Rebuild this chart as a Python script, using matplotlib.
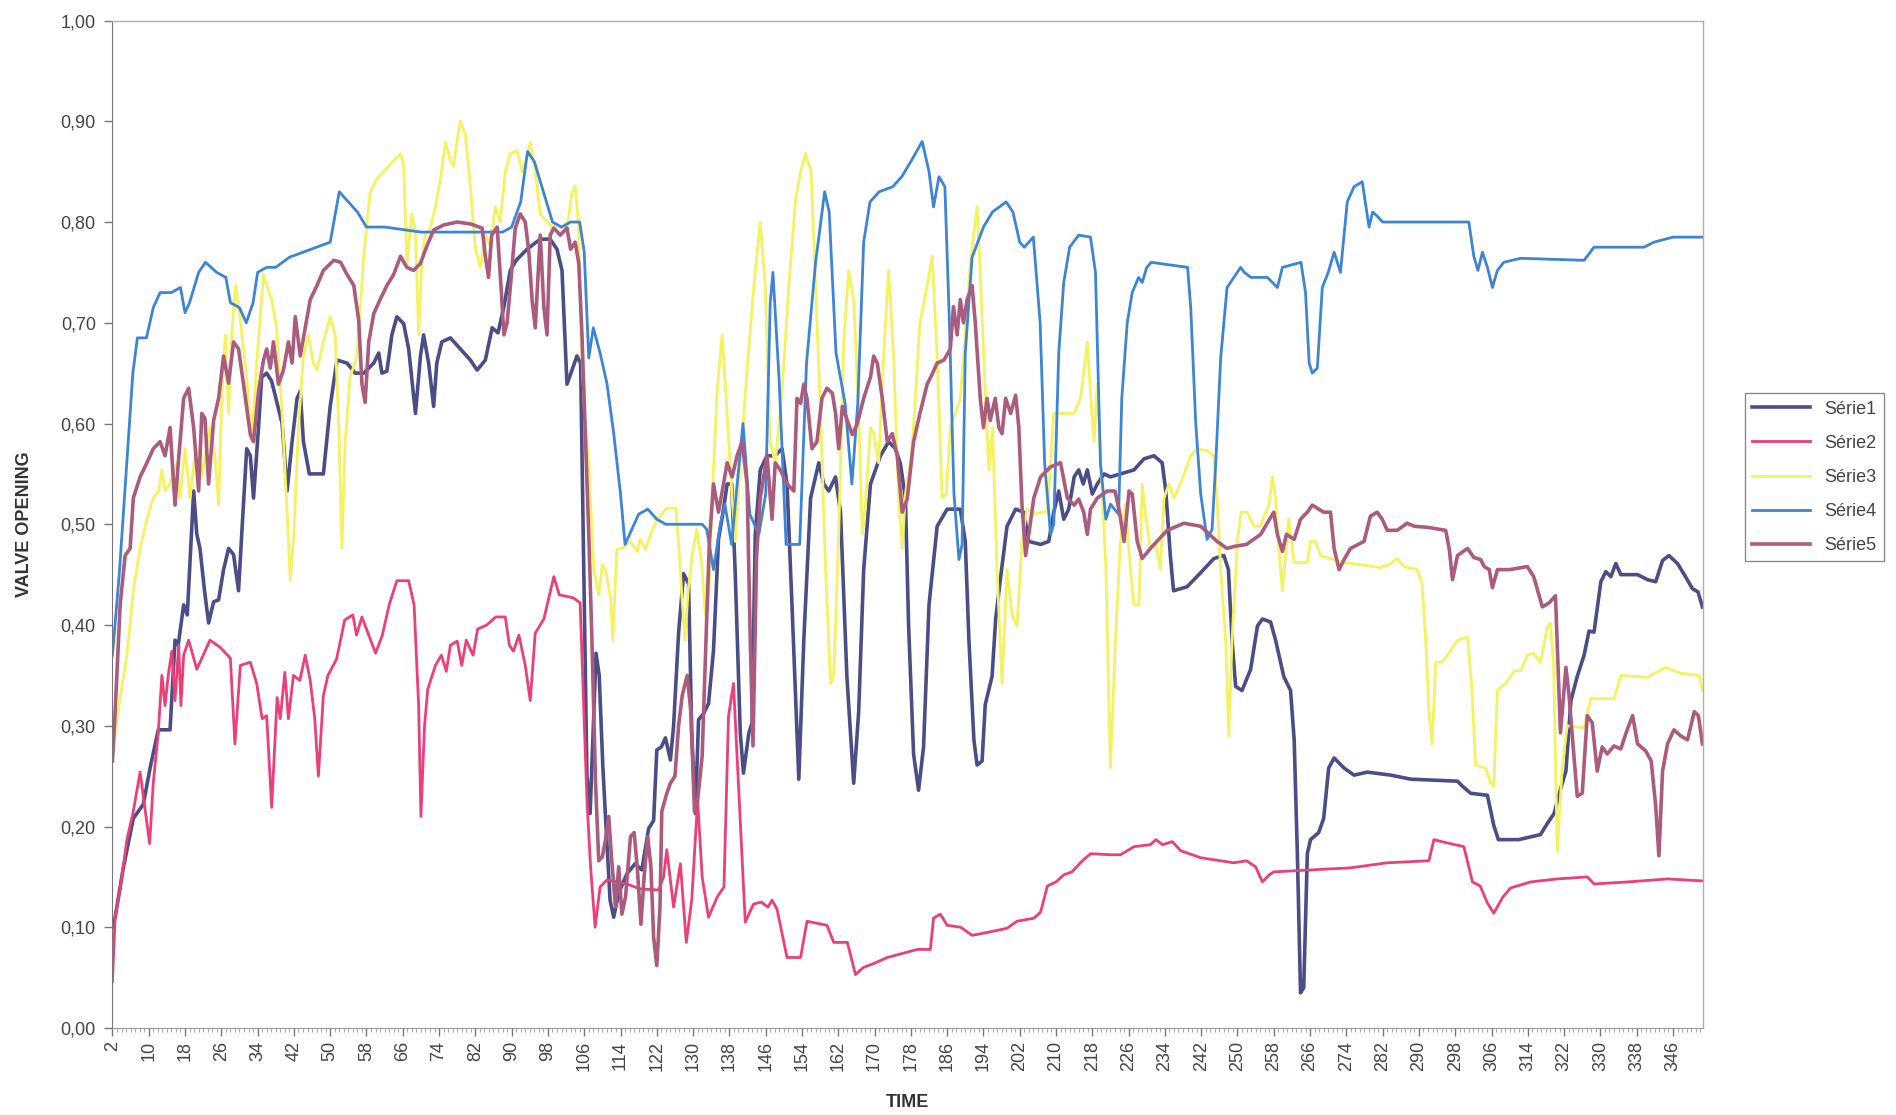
import matplotlib
matplotlib.use("Agg")
import matplotlib.pyplot as plt
from matplotlib.ticker import MultipleLocator, FuncFormatter

# valve opening per time step, read as (time, value) pairs for each series
t1 = [2, 2.6, 4.4, 6.6, 8.8, 10.3, 12.1, 14.7, 15.8, 16.5, 17.7, 18.5, 19.9, 20.6, 21.3, 22.3, 23.2, 24.3, 25.4,
      26.5, 27.6, 28.7, 29.8, 30.5, 31.6, 32.4, 33.1, 34.2, 34.9, 36, 37.1, 38.3, 39.4, 40.5, 41.6, 42.7, 43.4,
      44.1, 45.4, 48.5, 50, 51.5, 53.7, 55.5, 57.4, 59.6, 60.7, 61.4, 62.5, 63.6, 64.7, 66.2, 67.3, 68.8, 69.9,
      70.6, 71.7, 72.8, 73.5, 74.6, 76.5, 78.7, 80.9, 82.4, 84.2, 85.7, 87, 88.3, 89.7, 91, 93.4, 96.3, 98.5,
      100, 101.1, 102.2, 103.3, 104.4, 105.2, 105.9, 106.6, 107.3, 108.6, 109.3, 110.1, 110.8, 111.7, 112.5,
      113.6, 115.4, 117.2, 118.7, 120.2, 121.3, 122, 123, 123.9, 125, 125.7, 126.8, 127.9, 129, 129.7, 130.5,
      131.2, 132.3, 133.4, 134.5, 135.6, 136.6, 137.5, 138.5, 139.3, 140.4, 141.1, 142.3, 143, 143.7, 144.8,
      146.3, 148, 149.6, 150.7, 151.8, 153.3, 154.4, 155.9, 157.7, 158.8, 159.9, 161.4, 162.5, 163.9, 165.4,
      166.5, 167.6, 169.1, 171.3, 173.1, 174.6, 175.7, 176.8, 177.5, 178.6, 179.7, 180.8, 182, 183.8, 186,
      188.9, 190, 190.8, 191.9, 192.6, 193.7, 194.4, 195.9, 196.7, 197.8, 199.2, 201.1, 202.9, 204, 206.6,
      208.4, 209.5, 210.6, 211.7, 212.8, 214, 215, 216, 216.9, 218, 219.1, 220.6, 222, 224.2, 227.2, 229.4,
      231.6, 233.4, 234.2, 235.2, 235.9, 238.9, 241.9, 244.8, 247, 248, 248.8, 249.6, 251, 252.9, 254.4, 255.5,
      257.3, 258.4, 260.2, 261.7, 262.5, 263.2, 263.9, 264.6, 265.4, 266.1, 267.9, 269, 270.1, 271.3, 273.5,
      275.7, 278.6, 283.8, 288.2, 298.5, 299.6, 301.4, 305.1, 306.5, 307.5, 312, 316.8, 318.3, 319.8, 321.2,
      322.4, 323.5, 324.9, 326.4, 327.5, 328.6, 330.1, 331.2, 332.3, 333.4, 334.5, 338.2, 340.4, 342.2, 343.7,
      345.1, 347, 348.5, 350.3, 351.5, 352.5]
v1 = [0.10, 0.11, 0.159, 0.208, 0.222, 0.258, 0.296, 0.296, 0.385, 0.38, 0.42, 0.41, 0.533, 0.49, 0.476, 0.434,
      0.402, 0.423, 0.425, 0.455, 0.476, 0.47, 0.434, 0.49, 0.575, 0.568, 0.526, 0.596, 0.646, 0.65, 0.642, 0.62,
      0.60, 0.533, 0.582, 0.625, 0.632, 0.582, 0.55, 0.55, 0.617, 0.663, 0.66, 0.65, 0.65, 0.66, 0.67, 0.65,
      0.652, 0.688, 0.706, 0.699, 0.674, 0.61, 0.667, 0.688, 0.66, 0.617, 0.66, 0.681, 0.685, 0.674, 0.663,
      0.653, 0.663, 0.695, 0.69, 0.716, 0.752, 0.762, 0.773, 0.783, 0.783, 0.773, 0.752, 0.639, 0.653, 0.667,
      0.66, 0.455, 0.25, 0.213, 0.372, 0.35, 0.26, 0.20, 0.127, 0.11, 0.134, 0.153, 0.163, 0.157, 0.198, 0.206,
      0.276, 0.279, 0.288, 0.266, 0.30, 0.392, 0.451, 0.441, 0.293, 0.213, 0.306, 0.312, 0.322, 0.375, 0.485,
      0.512, 0.54, 0.54, 0.45, 0.293, 0.253, 0.293, 0.303, 0.49, 0.554, 0.568, 0.568, 0.575, 0.54, 0.42, 0.247,
      0.385, 0.526, 0.561, 0.54, 0.533, 0.547, 0.512, 0.349, 0.243, 0.314, 0.455, 0.54, 0.568, 0.582, 0.575,
      0.56, 0.526, 0.40, 0.272, 0.236, 0.279, 0.42, 0.498, 0.515, 0.515, 0.483, 0.385, 0.286, 0.261, 0.265,
      0.321, 0.349, 0.406, 0.448, 0.498, 0.515, 0.512, 0.483, 0.48, 0.483, 0.512, 0.533, 0.505, 0.515, 0.547,
      0.554, 0.54, 0.554, 0.53, 0.54, 0.55, 0.547, 0.55, 0.554, 0.565, 0.568, 0.561, 0.533, 0.469, 0.434, 0.438,
      0.452, 0.466, 0.469, 0.455, 0.385, 0.339, 0.335, 0.356, 0.399, 0.406, 0.403, 0.385, 0.349, 0.335, 0.286,
      0.173, 0.035, 0.04, 0.173, 0.187, 0.194, 0.208, 0.258, 0.268, 0.258, 0.251, 0.254, 0.251, 0.247, 0.245,
      0.24, 0.233, 0.231, 0.201, 0.187, 0.187, 0.192, 0.203, 0.213, 0.237, 0.255, 0.325, 0.349, 0.37, 0.394,
      0.393, 0.443, 0.453, 0.448, 0.461, 0.45, 0.45, 0.445, 0.443, 0.464, 0.469, 0.461, 0.45, 0.436, 0.433, 0.418]

t2 = [2, 2.6, 3.7, 5.2, 6.6, 8.1, 9.1, 10.2, 11, 12.1, 12.9, 13.6, 14.3, 15.1, 15.8, 16.6, 17.1, 17.7, 18.8, 20.6,
      23.5, 25.7, 28, 29, 30.2, 32.4, 33.8, 35, 36, 37.1, 38.3, 39, 40, 40.8, 41.9, 43.3, 44.5, 45.6, 46.6, 47.4,
      48.5, 49.5, 51.4, 53.2, 55, 55.8, 57, 58.5, 60, 61.5, 63, 64.7, 67.3, 68.5, 69.5, 70, 70.8, 71.5, 73.2,
      74.5, 75.6, 76.5, 78, 79, 80, 81.5, 82.5, 84.5, 86.5, 88.6, 89.5, 90.4, 91.6, 93, 94.1, 95.2, 97.1, 99.3,
      100.5, 103.6, 105.1, 105.8, 106.6, 107.4, 108.4, 109.5, 111, 115.4, 118.3, 122.4, 123.5, 124.2, 125.7,
      127.2, 128.5, 129.7, 131, 132, 133.4, 135.3, 136.8, 137.8, 138.9, 139.8, 141.5, 143.3, 145, 146.5, 147.4,
      148.5, 150.7, 153.7, 155.1, 159.5, 161, 164, 165.8, 167.5, 169.8, 172.8, 179.4, 182.3, 183, 184.5, 186,
      189, 191.5, 195, 199.2, 201.4, 205.1, 206.6, 208.1, 210, 211.7, 213.5, 215.8, 217.6, 222, 224.2, 227.2,
      230.8, 232, 233.5, 235.6, 237.5, 241.9, 249.2, 252, 254, 255.5, 257, 258, 274.9, 283, 292.2, 293.3, 295,
      299.9, 301.8, 303.5, 305.1, 306.5, 308.5, 310.2, 314.6, 320.5, 327.1, 328.6, 336, 344.8, 352.5]
v2 = [0.046, 0.11, 0.138, 0.187, 0.215, 0.254, 0.22, 0.183, 0.243, 0.293, 0.35, 0.32, 0.35, 0.374, 0.325, 0.38,
      0.32, 0.37, 0.385, 0.356, 0.385, 0.378, 0.367, 0.282, 0.36, 0.363, 0.342, 0.307, 0.31, 0.219, 0.328, 0.307,
      0.353, 0.307, 0.35, 0.345, 0.37, 0.345, 0.307, 0.25, 0.33, 0.35, 0.366, 0.405, 0.41, 0.39, 0.408, 0.39,
      0.372, 0.39, 0.42, 0.444, 0.444, 0.42, 0.32, 0.21, 0.30, 0.336, 0.36, 0.37, 0.354, 0.38, 0.384, 0.36,
      0.385, 0.37, 0.396, 0.40, 0.408, 0.408, 0.38, 0.374, 0.39, 0.36, 0.325, 0.392, 0.406, 0.448, 0.43, 0.427,
      0.422, 0.33, 0.226, 0.16, 0.10, 0.14, 0.147, 0.143, 0.138, 0.137, 0.15, 0.177, 0.12, 0.163, 0.085, 0.127,
      0.226, 0.15, 0.11, 0.13, 0.14, 0.309, 0.342, 0.26, 0.105, 0.123, 0.125, 0.12, 0.127, 0.118, 0.07, 0.07,
      0.106, 0.102, 0.085, 0.085, 0.053, 0.06, 0.064, 0.07, 0.078, 0.078, 0.109, 0.113, 0.102, 0.10, 0.092,
      0.095, 0.099, 0.106, 0.109, 0.115, 0.141, 0.145, 0.152, 0.155, 0.166, 0.173, 0.172, 0.172, 0.18, 0.182,
      0.187, 0.182, 0.185, 0.176, 0.169, 0.164, 0.166, 0.16, 0.145, 0.152, 0.155, 0.159, 0.164, 0.166, 0.187,
      0.185, 0.18, 0.145, 0.141, 0.124, 0.114, 0.13, 0.139, 0.145, 0.148, 0.15, 0.143, 0.145, 0.148, 0.146]

t3 = [2, 3.7, 5.2, 6.6, 8.1, 9.6, 11, 12.2, 12.9, 13.6, 14.7, 16.2, 16.9, 18, 19.1, 20.2, 21, 21.7, 23.5, 24.6,
      25.4, 26.1, 26.9, 27.6, 28.3, 29.1, 30.2, 31.6, 32.7, 33.8, 35.3, 36, 37.1, 38.2, 39.4, 40.5, 41.2, 42, 43,
      44.1, 45.2, 46.3, 47.1, 48.5, 50, 51.1, 51.9, 52.6, 53.3, 54.4, 55.9, 57.4, 58.8, 60.3, 61.8, 64, 65.5,
      66.2, 66.9, 68, 68.8, 69.5, 70.2, 70.9, 72.1, 73.2, 74.3, 75.4, 76.5, 77.2, 77.9, 78.7, 79.8, 80.9, 82,
      83.1, 84.2, 85.3, 86.4, 87.5, 88.6, 89.7, 91.2, 92.3, 93.4, 94.1, 95.2, 96.3, 97.8, 99.3, 100.7, 102.2,
      103.3, 104, 104.7, 105.5, 106.2, 107, 108.1, 109.2, 110, 110.7, 111.8, 112.3, 113.2, 114.3, 116.2, 117.7,
      118.3, 119.5, 120.6, 122.1, 124.2, 126.2, 127, 127.5, 128.2, 128.9, 129.8, 130.8, 131.9, 132.7, 133.4,
      134.2, 135.3, 136.4, 137.5, 138.6, 139.3, 140.4, 141.9, 143.4, 144.8, 145.9, 147, 148.1, 149.6, 151.1,
      152.6, 153.7, 154.8, 156, 157, 158.1, 159.2, 160.3, 161, 162.1, 163.2, 164.3, 165.4, 166.5, 167.3, 168,
      169.1, 169.8, 170.9, 172, 173.1, 174.2, 175.3, 176.1, 176.8, 177.9, 178.6, 180, 181.6, 182.7, 183.8,
      184.9, 185.8, 186.7, 187.8, 188.9, 190, 191.1, 192.6, 193.3, 194.4, 195.2, 196, 197, 198.1, 199.2, 200.3,
      201.4, 202.5, 203.6, 205, 208.1, 209.5, 214, 215.4, 216.9, 217.6, 218.4, 219.1, 219.8, 221, 222, 223.1,
      224.2, 225.3, 226.4, 227.2, 228.3, 229, 229.7, 230.8, 232, 233, 233.8, 234.9, 236, 237.4, 238.6, 239.7,
      241.1, 243.3, 244.8, 245.5, 246.3, 247.4, 248.1, 248.8, 250, 250.8, 252.2, 253.6, 255.1, 256.2, 257,
      257.7, 258.4, 259.1, 259.9, 260.6, 261.3, 262.5, 265.4, 266.1, 267.2, 268.3, 273.5, 278.6, 281.5, 283.5,
      285.2, 286.7, 289.6, 290.7, 291.5, 292.2, 292.9, 293.7, 295, 296.3, 298.5, 300.7, 301.6, 302.5, 304.7,
      305.8, 306.5, 307.3, 309.1, 311, 312.5, 313.9, 315.3, 316.8, 318.3, 319, 319.7, 320.5, 321.6, 322.7,
      326.4, 327.9, 333, 334.5, 340.4, 344.4, 347.7, 351.8, 352.5]
v3 = [0.272, 0.328, 0.37, 0.434, 0.476, 0.505, 0.526, 0.533, 0.554, 0.533, 0.54, 0.561, 0.526, 0.575, 0.526,
      0.568, 0.575, 0.547, 0.596, 0.568, 0.519, 0.625, 0.688, 0.61, 0.688, 0.737, 0.702, 0.646, 0.582, 0.66,
      0.748, 0.737, 0.723, 0.695, 0.61, 0.512, 0.445, 0.49, 0.596, 0.667, 0.688, 0.66, 0.653, 0.681, 0.706,
      0.688, 0.596, 0.476, 0.582, 0.646, 0.667, 0.766, 0.829, 0.843, 0.85, 0.861, 0.868, 0.855, 0.759, 0.808,
      0.79, 0.688, 0.759, 0.787, 0.794, 0.815, 0.843, 0.879, 0.861, 0.855, 0.879, 0.90, 0.886, 0.836, 0.773,
      0.755, 0.787, 0.776, 0.815, 0.80, 0.85, 0.868, 0.871, 0.85, 0.865, 0.879, 0.85, 0.808, 0.80, 0.794, 0.787,
      0.794, 0.829, 0.836, 0.80, 0.667, 0.596, 0.561, 0.455, 0.43, 0.46, 0.455, 0.427, 0.385, 0.475, 0.476,
      0.483, 0.473, 0.485, 0.475, 0.49, 0.505, 0.516, 0.516, 0.469, 0.43, 0.385, 0.434, 0.469, 0.495, 0.462,
      0.41, 0.42, 0.526, 0.632, 0.688, 0.61, 0.526, 0.483, 0.561, 0.653, 0.737, 0.80, 0.737, 0.582, 0.561,
      0.632, 0.737, 0.822, 0.85, 0.868, 0.85, 0.737, 0.61, 0.455, 0.342, 0.35, 0.49, 0.681, 0.752, 0.723, 0.61,
      0.49, 0.52, 0.596, 0.59, 0.561, 0.667, 0.752, 0.667, 0.526, 0.476, 0.53, 0.561, 0.596, 0.70, 0.737,
      0.766, 0.667, 0.526, 0.53, 0.596, 0.61, 0.625, 0.688, 0.759, 0.815, 0.75, 0.632, 0.554, 0.596, 0.455,
      0.342, 0.455, 0.41, 0.399, 0.483, 0.515, 0.51, 0.513, 0.61, 0.61, 0.625, 0.681, 0.63, 0.582, 0.639, 0.568,
      0.455, 0.258, 0.385, 0.483, 0.52, 0.455, 0.42, 0.42, 0.54, 0.51, 0.476, 0.48, 0.455, 0.526, 0.54, 0.526,
      0.54, 0.554, 0.568, 0.575, 0.573, 0.568, 0.526, 0.455, 0.385, 0.29, 0.385, 0.483, 0.512, 0.512, 0.498,
      0.498, 0.512, 0.52, 0.547, 0.526, 0.476, 0.434, 0.469, 0.505, 0.462, 0.462, 0.483, 0.483, 0.469, 0.462,
      0.459, 0.457, 0.46, 0.466, 0.458, 0.455, 0.441, 0.385, 0.314, 0.282, 0.363, 0.363, 0.37, 0.385, 0.388,
      0.342, 0.261, 0.258, 0.243, 0.24, 0.335, 0.342, 0.354, 0.355, 0.37, 0.372, 0.363, 0.398, 0.402, 0.36,
      0.175, 0.26, 0.30, 0.298, 0.327, 0.327, 0.35, 0.348, 0.358, 0.352, 0.35, 0.335]

t4 = [2, 3.5, 5, 6.5, 7.5, 9.5, 11, 12.5, 15, 17, 18, 19, 21, 22.5, 25, 27, 28, 30, 31.5, 33, 34, 36, 38, 41, 44,
      47, 50, 52, 54, 56, 58, 62, 70, 80, 88, 90, 92, 93.5, 95, 97, 99, 101, 103, 105, 106, 107, 108, 109.5,
      111, 112.5, 114, 115, 116, 118, 120, 122, 124, 132, 133, 134.5, 136, 137, 138.5, 139.5, 141, 142.5, 144.5,
      146, 147, 147.6, 149, 150.5, 153.5, 155, 157, 159, 160, 161.5, 163.5, 165, 166.3, 167.6, 169, 171, 174,
      176, 178, 180.5, 182, 183, 184.2, 185.5, 186.5, 187.5, 188.6, 189.3, 190, 191.5, 194, 196, 199, 200.5, 202,
      203, 205, 206.5, 207.5, 208.8, 209.5, 210.6, 211.7, 213, 215, 217.6, 218.7, 219.8, 221, 222, 223.8, 224.5,
      225.7, 226.8, 228.2, 229, 230, 231, 239, 239.7, 240.8, 241.9, 243.3, 244.4, 245.2, 246.3, 247.7, 249.2,
      250.7, 251.5, 253, 256.6, 258.8, 259.9, 264, 265, 265.8, 266.5, 267.6, 268.7, 270, 271.3, 272.7, 274.2,
      275.7, 277.5, 279, 279.8, 281, 282, 301, 302.1, 303, 304, 305.1, 306.2, 307.3, 308.7, 312.4, 326.4,
      328.6, 339.6, 341.8, 346, 352.5]
v4 = [0.37, 0.45, 0.55, 0.65, 0.685, 0.685, 0.715, 0.73, 0.73, 0.735, 0.71, 0.72, 0.75, 0.76, 0.75, 0.745, 0.72,
      0.715, 0.70, 0.72, 0.75, 0.755, 0.755, 0.765, 0.77, 0.775, 0.78, 0.83, 0.82, 0.81, 0.795, 0.795, 0.79,
      0.79, 0.79, 0.795, 0.82, 0.87, 0.86, 0.83, 0.80, 0.795, 0.80, 0.80, 0.77, 0.665, 0.695, 0.67, 0.64, 0.59,
      0.53, 0.48, 0.49, 0.51, 0.515, 0.505, 0.50, 0.50, 0.495, 0.455, 0.50, 0.52, 0.48, 0.53, 0.60, 0.51, 0.49,
      0.53, 0.72, 0.75, 0.64, 0.48, 0.48, 0.66, 0.76, 0.83, 0.81, 0.67, 0.62, 0.54, 0.62, 0.78, 0.82, 0.83,
      0.835, 0.845, 0.86, 0.88, 0.85, 0.815, 0.845, 0.835, 0.70, 0.53, 0.465, 0.48, 0.67, 0.765, 0.795, 0.81,
      0.82, 0.81, 0.78, 0.775, 0.785, 0.70, 0.56, 0.49, 0.50, 0.67, 0.74, 0.775, 0.787, 0.785, 0.75, 0.56, 0.505,
      0.52, 0.51, 0.625, 0.70, 0.73, 0.745, 0.74, 0.755, 0.76, 0.755, 0.715, 0.60, 0.53, 0.485, 0.495, 0.56,
      0.665, 0.735, 0.745, 0.755, 0.75, 0.745, 0.745, 0.735, 0.755, 0.76, 0.73, 0.66, 0.65, 0.655, 0.735, 0.75,
      0.77, 0.75, 0.82, 0.835, 0.84, 0.795, 0.81, 0.805, 0.80, 0.80, 0.766, 0.752, 0.77, 0.755, 0.735, 0.752,
      0.76, 0.764, 0.762, 0.775, 0.775, 0.78, 0.785, 0.785]

t5 = [2, 2.6, 3.7, 4.8, 5.9, 6.6, 8.1, 9.6, 11, 12.5, 13.6, 14.7, 15.8, 16.5, 17.7, 18.8, 19.9, 21, 21.7, 22.4,
      23.2, 24.3, 25.4, 26.5, 27.6, 28.7, 29.8, 30.9, 32.4, 33.1, 34.2, 35.3, 36, 36.8, 37.5, 38.6, 39.7, 40.8,
      41.6, 42.3, 43.4, 44.5, 45.6, 47.1, 48.5, 50.8, 52.3, 53.7, 55.2, 56.3, 57, 57.7, 58.5, 59.6, 61, 62.5,
      64, 65.5, 66.9, 68.4, 69.9, 71.3, 72.8, 75, 78, 81, 83.5, 84.2, 84.9, 85.6, 86.8, 87.6, 88.3, 89, 89.8,
      90.8, 91.9, 93, 93.8, 94.5, 95.2, 96.3, 97.1, 97.8, 98.5, 99.3, 100.7, 102.2, 103, 104, 104.8, 105.5,
      106.2, 107, 107.7, 108.5, 109.2, 110, 110.7, 111.4, 112, 112.9, 113.6, 114.3, 115.1, 116.2, 117, 117.7,
      118.5, 119.2, 120, 120.7, 121.3, 122, 122.7, 123.1, 124.2, 125, 126, 126.8, 127.6, 128.7, 129.5, 130.3,
      131, 132, 133.1, 133.6, 134.5, 135.6, 136.7, 137.5, 138.6, 139.7, 140.8, 141.9, 142.6, 143.2, 144, 144.8,
      146.3, 147.4, 148.1, 149.2, 150.7, 152.2, 152.9, 153.7, 154.4, 155.1, 156.2, 157.3, 158.4, 159.5, 160.7,
      161.4, 162.1, 162.9, 164, 165.1, 166.2, 167.6, 169.1, 169.8, 170.6, 171.7, 172.8, 173.9, 175, 176.1,
      177.2, 178.6, 180, 181.6, 182.7, 183.8, 185.3, 186.7, 187.4, 188.2, 188.9, 189.6, 190.4, 191.5, 192.2,
      193.3, 194, 194.8, 195.5, 196.6, 197.4, 198.1, 198.9, 200, 201.1, 201.8, 202.5, 203.3, 204, 205.1, 206.6,
      208.8, 211, 212.5, 214, 215, 216.1, 216.9, 217.6, 219.1, 221.3, 223, 224, 225, 226.1, 226.8, 227.9, 229,
      230.8, 234.5, 238.2, 241.9, 245.5, 247.7, 249.2, 252, 255.1, 258, 258.8, 259.9, 260.8, 262.5, 263.9,
      265.4, 266.5, 269, 270.5, 271.3, 272.4, 273.5, 274.9, 277.9, 279.3, 280.8, 281.9, 283, 285.2, 287.4, 289,
      291.8, 295.9, 296.7, 297.4, 298.5, 300.7, 302.1, 303.6, 304.4, 305.5, 306.2, 307.3, 310, 313.9, 315.3,
      317.2, 318.7, 320.1, 321.2, 322.4, 323.1, 323.8, 324.9, 326, 327.1, 328.2, 329.3, 330.4, 331.5, 333,
      334.5, 335.9, 337.1, 338.2, 340, 341.2, 342.2, 342.9, 343.7, 344.8, 346.2, 347.7, 349.2, 350.7, 351.6,
      352.5]
v5 = [0.265, 0.314, 0.42, 0.469, 0.476, 0.526, 0.547, 0.561, 0.575, 0.582, 0.568, 0.596, 0.519, 0.56, 0.625,
      0.635, 0.596, 0.533, 0.61, 0.605, 0.54, 0.603, 0.625, 0.667, 0.64, 0.681, 0.674, 0.639, 0.589, 0.582,
      0.632, 0.663, 0.674, 0.655, 0.681, 0.639, 0.653, 0.681, 0.66, 0.706, 0.667, 0.695, 0.723, 0.737, 0.752,
      0.762, 0.76, 0.748, 0.737, 0.702, 0.639, 0.621, 0.681, 0.709, 0.723, 0.737, 0.748, 0.766, 0.755, 0.752,
      0.759, 0.776, 0.792, 0.797, 0.80, 0.798, 0.794, 0.766, 0.745, 0.787, 0.795, 0.74, 0.688, 0.70, 0.74,
      0.794, 0.808, 0.80, 0.77, 0.723, 0.695, 0.787, 0.716, 0.688, 0.787, 0.794, 0.787, 0.794, 0.773, 0.78,
      0.759, 0.688, 0.596, 0.49, 0.385, 0.243, 0.166, 0.17, 0.187, 0.21, 0.17, 0.12, 0.16, 0.113, 0.13, 0.19,
      0.194, 0.159, 0.103, 0.15, 0.19, 0.16, 0.09, 0.062, 0.12, 0.215, 0.233, 0.243, 0.25, 0.30, 0.33, 0.35,
      0.314, 0.215, 0.226, 0.27, 0.42, 0.483, 0.54, 0.512, 0.54, 0.561, 0.547, 0.568, 0.582, 0.54, 0.385, 0.28,
      0.469, 0.526, 0.568, 0.505, 0.561, 0.554, 0.54, 0.533, 0.625, 0.62, 0.639, 0.625, 0.575, 0.582, 0.625,
      0.635, 0.63, 0.61, 0.575, 0.617, 0.603, 0.589, 0.60, 0.625, 0.646, 0.667, 0.66, 0.625, 0.582, 0.59,
      0.568, 0.512, 0.525, 0.582, 0.61, 0.639, 0.649, 0.66, 0.663, 0.674, 0.716, 0.688, 0.723, 0.70, 0.723,
      0.737, 0.70, 0.625, 0.596, 0.625, 0.603, 0.625, 0.596, 0.59, 0.625, 0.61, 0.628, 0.596, 0.519, 0.469,
      0.49, 0.526, 0.547, 0.557, 0.561, 0.526, 0.519, 0.525, 0.512, 0.49, 0.515, 0.526, 0.533, 0.533, 0.512,
      0.483, 0.533, 0.53, 0.483, 0.466, 0.476, 0.494, 0.501, 0.498, 0.483, 0.476, 0.478, 0.48, 0.49, 0.512,
      0.49, 0.473, 0.49, 0.485, 0.505, 0.512, 0.519, 0.512, 0.512, 0.476, 0.455, 0.465, 0.476, 0.483, 0.508,
      0.512, 0.505, 0.494, 0.494, 0.501, 0.498, 0.497, 0.494, 0.475, 0.445, 0.469, 0.476, 0.467, 0.465, 0.458,
      0.455, 0.437, 0.455, 0.455, 0.458, 0.448, 0.418, 0.422, 0.429, 0.293, 0.358, 0.33, 0.29, 0.23, 0.233,
      0.31, 0.303, 0.255, 0.279, 0.272, 0.28, 0.277, 0.296, 0.31, 0.282, 0.275, 0.265, 0.22, 0.171, 0.255,
      0.282, 0.296, 0.29, 0.286, 0.314, 0.31, 0.282]

series = [(t1, v1, "Série1", "#4b4e86", 2.6),
          (t2, v2, "Série2", "#ec3f78", 2.0),
          (t3, v3, "Série3", "#f4f25e", 2.0),
          (t4, v4, "Série4", "#3d84d6", 2.0),
          (t5, v5, "Série5", "#ab5c7e", 2.6)]

time_ticks = list(range(2, 347, 8))

plt.rcParams['font.family'] = ['Liberation Sans', 'DejaVu Sans']

fig = plt.figure(figsize=(18.96, 11.15), dpi=100)
ax = fig.add_axes([0.0593, 0.078, 0.8391, 0.9036])

for t, v, name, col, lw in series:
    ax.plot(t, v, color=col, lw=lw, label=name, solid_joinstyle='round')

ax.set_xlim(2, 352.7)
ax.set_ylim(0, 1)
ax.yaxis.set_major_locator(MultipleLocator(0.1))
ax.yaxis.set_major_formatter(FuncFormatter(lambda y, p: ("%.2f" % y).replace(".", ",")))
ax.set_xticks(time_ticks)
ax.set_xticklabels([str(x) for x in time_ticks], rotation=90)
ax.xaxis.set_minor_locator(MultipleLocator(1))

ax.tick_params(axis='both', which='major', direction='out', length=6, width=1, color='#777777',
               labelsize=13, labelcolor='#444444')
ax.tick_params(axis='x', which='minor', direction='out', length=3, width=0.6, color='#999999')
ax.tick_params(axis='y', which='major', pad=6)

for side in ['top', 'right']:
    ax.spines[side].set_color('#b0b0b0')
    ax.spines[side].set_linewidth(1)
ax.spines['left'].set_color('#777777')
ax.spines['bottom'].set_color('#999999')

ax.set_ylabel("VALVE OPENING", fontsize=13, fontweight='bold', color='#333333', labelpad=20,
              family=['Liberation Sans Narrow', 'Liberation Sans'])
ax.set_xlabel("TIME", fontsize=13, fontweight='bold', color='#333333', labelpad=16)

leg = ax.legend(loc='upper left', bbox_to_anchor=(1.026, 0.630), borderaxespad=0, fontsize=13,
                handlelength=3.2, labelspacing=0.95, fancybox=False, edgecolor='#8a8a8a', framealpha=1)
leg.get_frame().set_linewidth(1)
for txt in leg.get_texts():
    txt.set_color('#444444')

fig.savefig("out.png", dpi=100)
